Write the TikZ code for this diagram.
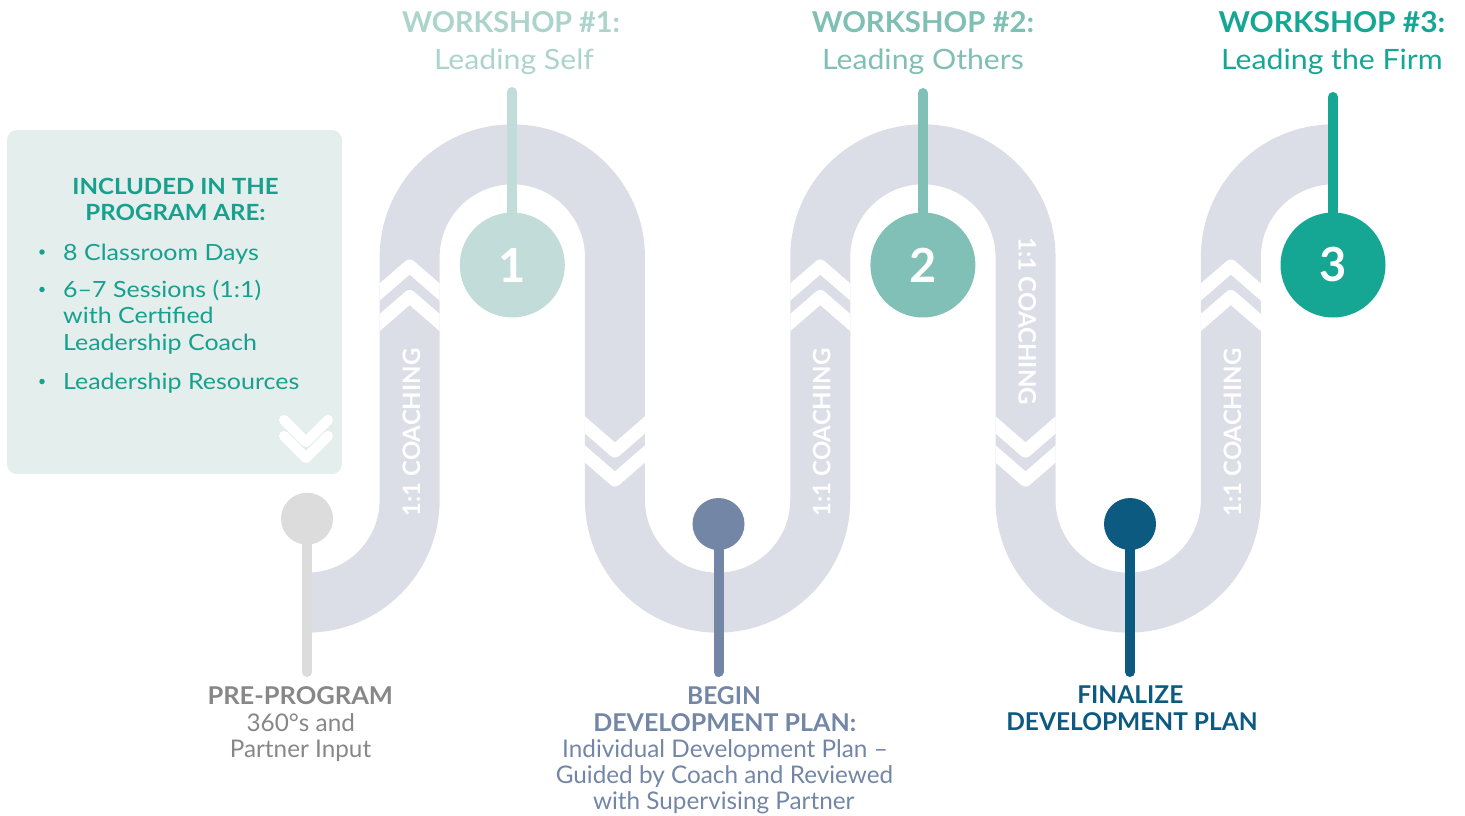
\documentclass[tikz,border=0pt]{standalone}
\usepackage{graphicx}
\usepackage{fontspec}
\setmainfont{Lato}
\newcommand{\wx}[2]{\scalebox{#1}[1]{#2}}
\definecolor{bandc}{HTML}{DCDEE7}
\definecolor{boxfill}{HTML}{E4EEEC}
\definecolor{teal}{HTML}{17A08E}
\definecolor{wone}{HTML}{ACD4CC}
\definecolor{cone}{HTML}{C2DDD9}
\definecolor{wtwo}{HTML}{80BFB4}
\definecolor{ctwo}{HTML}{80C0B6}
\definecolor{wthree}{HTML}{16A694}
\definecolor{preg}{HTML}{DCDCDC}
\definecolor{pret}{HTML}{878787}
\definecolor{begc}{HTML}{7386A6}
\definecolor{finc}{HTML}{0D5A80}
\tikzset{
  bandpath/.style={draw=bandc, line width=60},
  chev/.style={draw=white, line width=13, line join=round},
  boxchev/.style={draw=white, line width=10, line join=round, line cap=round},
  pinline/.style={line width=10, line cap=round},
  bigpin/.style={circle, inner sep=0, minimum size=105, text=white, font=\fontsize{47}{50}\selectfont\bfseries},
  smallpin/.style={circle, inner sep=0, minimum size=52},
  wshead/.style={font=\fontsize{28.75}{34}\selectfont\bfseries, anchor=base, inner sep=0},
  wssub/.style={font=\fontsize{28}{34}\selectfont, anchor=base, inner sep=0},
  coach/.style={font=\fontsize{24}{28}\selectfont\bfseries, text=white, inner sep=0},
  boxhead/.style={font=\fontsize{22.3}{26}\selectfont\bfseries, text=teal, anchor=base, inner sep=0},
  boxitem/.style={font=\fontsize{22.3}{26}\selectfont, text=teal, anchor=base west, inner sep=0},
  bullet/.style={circle, fill=teal, inner sep=0, minimum size=5.5},
  bothead/.style={font=\fontsize{24.5}{28}\selectfont\bfseries, anchor=base, inner sep=0},
  botbody/.style={font=\fontsize{24.3}{28}\selectfont, anchor=base, inner sep=0},
}
\begin{document}
\begin{tikzpicture}[x=1pt,y=-1pt]
\useasboundingbox (0,0) rectangle (1465,816);
% winding road
\draw[bandpath] (307,602.65) arc[start angle=90,end angle=0,radius=102.65]
  -- (409.65,257) arc[start angle=180,end angle=360,radius=102.65]
  -- (614.95,500) arc[start angle=180,end angle=0,radius=102.65]
  -- (820.25,257) arc[start angle=180,end angle=360,radius=102.65]
  -- (1025.55,500) arc[start angle=180,end angle=0,radius=102.65]
  -- (1230.85,257) arc[start angle=180,end angle=270,radius=102.65];
% chevrons on the road
\foreach \X in {409.65,820.25,1230.85}{
  \begin{scope}
    \clip (\X-30,200) rectangle (\X+30,360);
    \foreach \a in {266,296.5}{
      \draw[chev] (\X-40,\a+34.7) -- (\X,\a) -- (\X+40,\a+34.7);
    }
  \end{scope}
}
\foreach \X in {614.95,1025.55}{
  \begin{scope}
    \clip (\X-30,380) rectangle (\X+30,520);
    \foreach \a in {451,480}{
      \draw[chev] (\X-40,\a-34.7) -- (\X,\a) -- (\X+40,\a-34.7);
    }
  \end{scope}
}
% coaching labels
\node[coach, rotate=90] (co1) at (411.5,432.5) {1:1 COACHING};
\node[coach, rotate=90] (co3) at (821.8,432.5) {1:1 COACHING};
\node[coach, rotate=90] (co5) at (1232.4,432.5) {1:1 COACHING};
\node[coach, rotate=-90] (co4) at (1027.3,321) {1:1 COACHING};
% info box
\node[fill=boxfill, rounded corners=10, minimum width=335, minimum height=344, inner sep=0] (box) at (174.5,302) {};
\node[boxhead] (bh1) at (175.5,194) {\wx{1.08}{INCLUDED IN THE}};
\node[boxhead] (bh2) at (175.5,220) {\wx{1.08}{PROGRAM ARE:}};
\node[bullet] (bu1) at (42,252) {};
\node[bullet] (bu2) at (42,289.5) {};
\node[bullet] (bu3) at (42,381.5) {};
\node[boxitem] (bi1) at (63,260) {\wx{1.12}{8 Classroom Days}};
\node[boxitem] (bi2) at (63,297.3) {\wx{1.12}{6–7 Sessions (1:1)}};
\node[boxitem] (bi3) at (63,323.8) {\wx{1.12}{with Certified}};
\node[boxitem] (bi4) at (63,350.6) {\wx{1.12}{Leadership Coach}};
\node[boxitem] (bi5) at (63,389.3) {\wx{1.12}{Leadership Resources}};
\coordinate (bc1) at (284,420);
\coordinate (bc2) at (306,442);
\coordinate (bc3) at (328,420);
\coordinate (bc4) at (284,436);
\coordinate (bc5) at (306,458);
\coordinate (bc6) at (328,436);
\draw[boxchev] (bc1) -- (bc2) -- (bc3);
\draw[boxchev] (bc4) -- (bc5) -- (bc6);
% workshop pins
\node[bigpin, fill=cone] (p1) at (512.3,265) {1};
\node[bigpin, fill=ctwo] (p2) at (922.9,265) {2};
\node[bigpin, fill=wthree] (p3) at (1333,265) {3};
\coordinate (t1) at (512.3,92);
\coordinate (t2) at (922.9,93);
\coordinate (t3) at (1333,97);
\draw[pinline, cone] (t1) -- (p1);
\draw[pinline, ctwo] (t2) -- (p2);
\draw[pinline, wthree] (t3) -- (p3);
% workshop titles
\node[wshead, text=wone] (w1a) at (511,33) {WORKSHOP \#1:};
\node[wssub, text=wone] (w1b) at (514,70) {\wx{1.08}{Leading Self}};
\node[wshead, text=wtwo] (w2a) at (923,33) {\wx{1.02}{WORKSHOP \#2:}};
\node[wssub, text=wtwo] (w2b) at (923,70) {\wx{1.08}{Leading Others}};
\node[wshead, text=wthree] (w3a) at (1332,33) {\wx{1.04}{WORKSHOP \#3:}};
\node[wssub, text=wthree] (w3b) at (1332,70) {\wx{1.08}{Leading the Firm}};
% bottom pins
\node[smallpin, fill=preg] (q1) at (307,518.7) {};
\node[smallpin, fill=begc] (q2) at (718.5,524) {};
\node[smallpin, fill=finc] (q3) at (1130,524) {};
\coordinate (e1) at (307,672);
\coordinate (e2) at (718.5,672);
\coordinate (e3) at (1130,672);
\draw[pinline, preg] (q1.center) -- (e1);
\draw[pinline, begc] (q2.center) -- (e2);
\draw[pinline, finc] (q3.center) -- (e3);
% bottom labels
\node[bothead, text=pret] (l1a) at (300.3,704.3) {\wx{1.04}{PRE-PROGRAM}};
\node[botbody, text=pret] (l1b) at (300.8,731.7) {360°s and};
\node[botbody, text=pret] (l1c) at (300.5,757.5) {Partner Input};
\node[bothead, text=begc] (l2a) at (724,704.3) {BEGIN};
\node[bothead, text=begc] (l2b) at (724.7,731.5) {\wx{1.02}{DEVELOPMENT PLAN:}};
\node[botbody, text=begc] (l2c) at (725,757.3) {Individual Development Plan –};
\node[botbody, text=begc] (l2d) at (724.5,783.5) {Guided by Coach and Reviewed};
\node[botbody, text=begc] (l2e) at (723.7,809.5) {with Supervising Partner};
\node[bothead, text=finc] (l3a) at (1130.3,703.5) {FINALIZE};
\node[bothead, text=finc] (l3b) at (1132,730.3) {DEVELOPMENT PLAN};
\end{tikzpicture}
\end{document}
